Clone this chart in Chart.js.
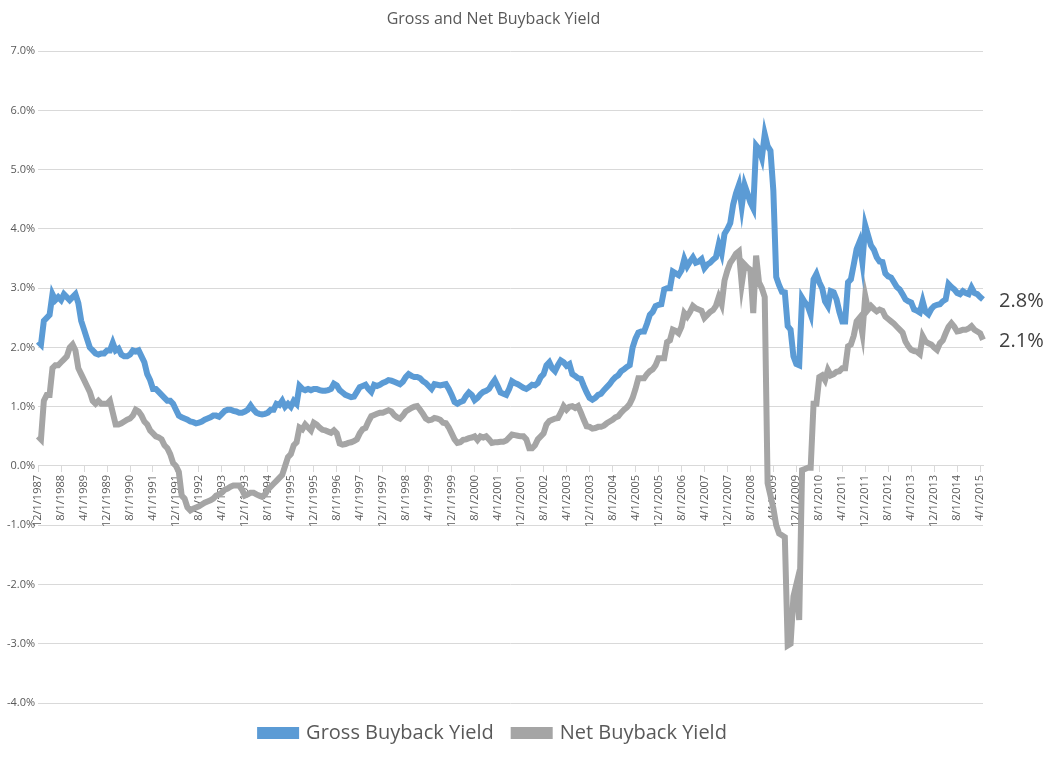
<!DOCTYPE html>
<html><head><meta charset="utf-8">
<script src="https://cdn.jsdelivr.net/npm/chart.js@4.4.1/dist/chart.umd.min.js"></script>
<style>html,body{margin:0;padding:0;background:#fff}#w{width:1047px;height:757px}</style>
</head><body><div id="w"><canvas id="c"></canvas></div>
<script>
// Monthly observations 12/1/1987 .. 5/1/2015
const startYear = 1987, startMonth = 12, monthCount = 330;
const grossYield = [
2.1,2.05,2.45,2.5,2.55,2.9,2.8,2.85,
2.8,2.9,2.85,2.8,2.85,2.9,2.75,2.45,
2.3,2.15,2.0,1.95,1.9,1.88,1.9,1.9,
1.95,1.95,2.08,1.95,1.98,1.88,1.85,1.85,
1.88,1.95,1.93,1.95,1.85,1.75,1.55,1.45,
1.3,1.3,1.25,1.2,1.15,1.1,1.1,1.05,
0.95,0.85,0.82,0.8,0.78,0.75,0.74,0.72,
0.73,0.75,0.78,0.8,0.82,0.85,0.85,0.83,
0.88,0.93,0.95,0.95,0.93,0.92,0.9,0.9,
0.92,0.95,1.02,0.95,0.9,0.88,0.87,0.88,
0.9,0.95,0.95,1.05,1.03,1.1,1.0,1.05,
1.0,1.1,1.05,1.35,1.3,1.28,1.3,1.28,
1.3,1.3,1.28,1.27,1.27,1.28,1.3,1.39,
1.36,1.28,1.24,1.2,1.18,1.16,1.17,1.25,
1.33,1.35,1.37,1.3,1.25,1.37,1.35,1.37,
1.4,1.42,1.45,1.44,1.42,1.4,1.38,1.42,
1.5,1.55,1.52,1.5,1.5,1.48,1.43,1.4,
1.35,1.3,1.38,1.37,1.36,1.37,1.38,1.3,
1.2,1.08,1.05,1.08,1.1,1.18,1.24,1.2,
1.11,1.15,1.21,1.25,1.27,1.3,1.38,1.45,
1.35,1.24,1.22,1.2,1.3,1.43,1.4,1.38,
1.35,1.32,1.3,1.33,1.37,1.36,1.4,1.5,
1.55,1.7,1.75,1.65,1.6,1.7,1.78,1.75,
1.69,1.72,1.55,1.52,1.48,1.47,1.35,1.24,
1.15,1.12,1.15,1.2,1.22,1.28,1.33,1.38,
1.45,1.5,1.53,1.6,1.63,1.67,1.7,2.0,
2.15,2.25,2.27,2.27,2.4,2.55,2.6,2.7,
2.72,2.73,2.98,3.0,3.0,3.28,3.25,3.22,
3.3,3.49,3.37,3.45,3.52,3.43,3.45,3.49,
3.34,3.4,3.43,3.48,3.52,3.74,3.59,3.92,
4.0,4.1,4.41,4.6,4.74,4.38,4.74,4.6,
4.45,4.35,5.41,5.35,5.2,5.6,5.4,5.32,
4.65,3.19,3.05,2.94,2.93,2.36,2.3,1.85,
1.72,1.7,2.84,2.76,2.7,2.56,3.15,3.24,
3.1,3.0,2.78,2.7,2.95,2.93,2.81,2.6,
2.44,2.44,3.1,3.15,3.4,3.66,3.78,3.44,
4.06,3.89,3.72,3.65,3.52,3.45,3.44,3.25,
3.2,3.18,3.1,3.02,2.98,2.9,2.81,2.78,
2.76,2.64,2.62,2.59,2.78,2.6,2.56,2.65,
2.7,2.72,2.73,2.78,2.81,3.07,3.02,2.98,
2.92,2.9,2.95,2.92,2.9,3.01,2.92,2.9,
2.85,2.81];
const netYield = [
0.5,0.45,1.1,1.2,1.2,1.65,1.7,1.7,
1.75,1.8,1.85,2.0,2.05,1.95,1.65,1.55,
1.45,1.35,1.25,1.1,1.05,1.1,1.05,1.05,
1.05,1.1,0.9,0.7,0.7,0.72,0.75,0.78,
0.8,0.85,0.95,0.92,0.85,0.75,0.7,0.6,
0.55,0.5,0.48,0.45,0.35,0.3,0.2,0.05,
0.0,-0.1,-0.5,-0.55,-0.7,-0.75,-0.72,-0.7,
-0.68,-0.65,-0.62,-0.6,-0.58,-0.55,-0.5,-0.48,
-0.45,-0.4,-0.38,-0.35,-0.33,-0.33,-0.33,-0.4,
-0.5,-0.48,-0.45,-0.45,-0.48,-0.5,-0.52,-0.48,
-0.4,-0.35,-0.3,-0.25,-0.2,-0.15,0.0,0.15,
0.2,0.35,0.4,0.65,0.62,0.7,0.65,0.6,
0.73,0.7,0.65,0.61,0.6,0.58,0.56,0.6,
0.55,0.38,0.36,0.37,0.39,0.4,0.42,0.45,
0.55,0.62,0.64,0.75,0.84,0.86,0.88,0.9,
0.9,0.92,0.94,0.92,0.86,0.82,0.8,0.85,
0.92,0.95,0.98,1.0,1.01,0.95,0.88,0.8,
0.77,0.78,0.81,0.8,0.78,0.73,0.72,0.65,
0.55,0.45,0.39,0.4,0.44,0.45,0.47,0.48,
0.5,0.44,0.5,0.48,0.5,0.45,0.39,0.4,
0.4,0.41,0.41,0.43,0.48,0.53,0.52,0.51,
0.5,0.5,0.45,0.3,0.3,0.35,0.45,0.5,
0.55,0.7,0.76,0.78,0.8,0.81,0.9,1.01,
0.95,1.0,1.01,0.98,1.01,0.9,0.78,0.67,
0.66,0.63,0.64,0.66,0.66,0.68,0.72,0.75,
0.78,0.82,0.84,0.9,0.95,0.99,1.05,1.15,
1.3,1.48,1.48,1.48,1.55,1.6,1.63,1.7,
1.82,1.82,1.82,2.09,2.12,2.3,2.28,2.24,
2.35,2.58,2.52,2.6,2.7,2.66,2.64,2.62,
2.5,2.55,2.6,2.63,2.7,2.85,2.73,3.13,
3.3,3.43,3.5,3.58,3.62,3.07,3.4,3.35,
3.31,2.58,3.55,3.1,3.0,2.85,-0.29,-0.5,
-0.71,-1.0,-1.14,-1.17,-1.2,-3.03,-3.0,-2.2,
-2.0,-2.6,-0.07,-0.05,-0.03,-0.03,1.05,1.05,
1.5,1.53,1.45,1.62,1.53,1.55,1.59,1.6,
1.65,1.65,2.02,2.05,2.2,2.44,2.5,2.24,
2.87,2.64,2.7,2.65,2.61,2.64,2.62,2.52,
2.48,2.44,2.4,2.35,2.3,2.25,2.1,2.02,
1.96,1.94,1.93,1.89,2.19,2.1,2.07,2.05,
2.0,1.96,2.07,2.12,2.24,2.35,2.41,2.35,
2.27,2.28,2.3,2.3,2.32,2.36,2.3,2.27,
2.24,2.13];
const seriesNames = ['Gross Buyback Yield','Net Buyback Yield'];
const endLabels = ['2.8%','2.1%'];
const tickEvery = 8;

const months = [];
for (let i=0;i<monthCount;i++){
  const t = (startYear*12 + startMonth-1) + i;
  months.push((t%12+1)+'/1/'+Math.floor(t/12));
}

const endLabelPlugin = {
  id:'endLabels',
  afterDatasetsDraw(chart){
    const ctx = chart.ctx;
    ctx.save();
    ctx.font = '20px "Open Sans", sans-serif';
    ctx.fillStyle = '#404040';
    ctx.textBaseline = 'middle';
    chart.data.datasets.forEach((ds,i)=>{
      const meta = chart.getDatasetMeta(i);
      const p = meta.data[meta.data.length-1];
      ctx.fillText(endLabels[i], p.x+16, p.y+2);
    });
    ctx.restore();
  }
};

new Chart(document.getElementById('c'),{
  type:'line',
  data:{labels:months,datasets:[
    {label:seriesNames[0],data:grossYield,borderColor:'#5B9BD5',backgroundColor:'#5B9BD5',borderWidth:6,pointRadius:0,tension:0},
    {label:seriesNames[1],data:netYield,borderColor:'#A5A5A5',backgroundColor:'#A5A5A5',borderWidth:6,pointRadius:0,tension:0}
  ]},
  options:{
    responsive:true,maintainAspectRatio:false,animation:false,
    layout:{padding:{left:4,right:64,top:0,bottom:4}},
    plugins:{
      title:{display:true,text:'Gross and Net Buyback Yield',color:'#595959',font:{family:'"Open Sans", sans-serif',size:16,weight:'normal'},padding:{top:10,bottom:22}},
      legend:{position:'bottom',labels:{color:'#595959',font:{family:'"Open Sans", sans-serif',size:20},boxWidth:36,boxHeight:6,padding:20}},
      tooltip:{enabled:false}
    },
    scales:{
      x:{position:{y:0},grid:{drawOnChartArea:false,color:(c)=>c.index%tickEvery===0?'#d9d9d9':'rgba(0,0,0,0)',tickLength:6},
         border:{color:'#d9d9d9'},
         ticks:{autoSkip:false,maxRotation:90,minRotation:90,color:'#595959',font:{family:'"Open Sans", sans-serif',size:11},
           callback:function(v,i){return i%tickEvery===0?this.getLabelForValue(v):'';}}},
      y:{min:-4,max:7,ticks:{stepSize:1,color:'#595959',font:{family:'"Open Sans", sans-serif',size:11},callback:v=>v.toFixed(1)+'%'},
         grid:{color:'#d9d9d9',drawTicks:false},border:{display:false}}
    }
  },
  plugins:[endLabelPlugin]
});
</script></body></html>
